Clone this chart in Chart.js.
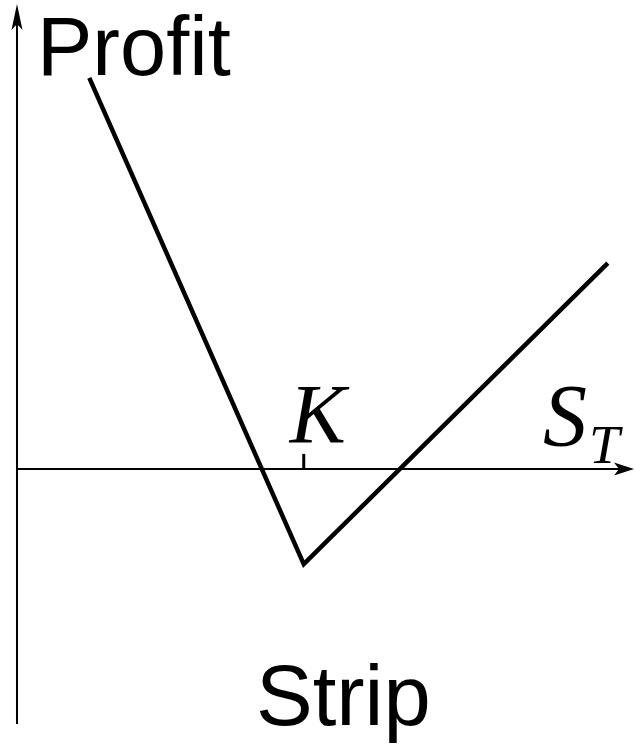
<!DOCTYPE html>
<html>
<head>
<meta charset="utf-8">
<script src="https://cdn.jsdelivr.net/npm/chart.js@4.4.0/dist/chart.umd.min.js"></script>
<style>
  html, body { margin: 0; padding: 0; background: #fff; }
  #strip { display: block; }
</style>
</head>
<body>
<canvas id="strip" width="635" height="750"></canvas>
<script>
// strip payoff: price axis 0..100, strike around 46
var priceST = [11.7, 46.4, 95.6];
var profit = [63.3, -15.4, 33.3];
var strike = 46.4;
var axisLabels = { y: "Profit", x: "S", xSub: "T", strike: "K", title: "Strip" };

var points = [];
for (var i in priceST) {
	points.push({ x: priceST[i], y: profit[i] });
}

function arrow(ctx, tx, ty, dir) {
	// dir: "up" or "right", small notched head like the sketch
	ctx.beginPath();
	if (dir == "up") {
		ctx.moveTo(tx, ty);
		ctx.lineTo(tx - 5.5, ty + 26);
		ctx.lineTo(tx, ty + 20);
		ctx.lineTo(tx + 5.5, ty + 26);
	} else {
		ctx.moveTo(tx, ty);
		ctx.lineTo(tx - 20, ty - 6.5);
		ctx.lineTo(tx - 15, ty);
		ctx.lineTo(tx - 20, ty + 6.5);
	}
	ctx.closePath();
	ctx.fill();
}

var axesPlugin = {
	id: 'axesPlugin',
	beforeDatasetsDraw: function(chart) {
		var ctx = chart.ctx;
		var xs = chart.scales.x, ys = chart.scales.y;
		var x0 = xs.getPixelForValue(0);
		var y0 = ys.getPixelForValue(0);
		var xEnd = xs.getPixelForValue(100);
		ctx.save();
		ctx.strokeStyle = "#000";
		ctx.fillStyle = "#000";
		ctx.lineWidth = 2;
		ctx.lineCap = "butt";

		// vertical axis
		ctx.beginPath();
		ctx.moveTo(x0, ys.getPixelForValue(-41.3));
		ctx.lineTo(x0, 12);
		ctx.stroke();
		arrow(ctx, x0, 4, "up");

		// horizontal axis
		ctx.beginPath();
		ctx.moveTo(x0, y0);
		ctx.lineTo(xEnd - 8, y0);
		ctx.stroke();
		arrow(ctx, xEnd - 1, y0, "right");

		// strike tick
		var kx = xs.getPixelForValue(strike);
		ctx.lineWidth = 3;
		ctx.beginPath();
		ctx.moveTo(kx, y0);
		ctx.lineTo(kx, y0 - 15);
		ctx.stroke();

		ctx.textBaseline = "alphabetic";
		ctx.textAlign = "left";
		ctx.font = "83px 'Liberation Sans', Arial, sans-serif";
		ctx.fillText(axisLabels.y, x0 + 20, 75);
		ctx.font = "85px 'Liberation Sans', Arial, sans-serif";
		ctx.fillText(axisLabels.title, 256, 725);

		ctx.font = "italic 84px 'Liberation Serif', 'Times New Roman', serif";
		ctx.fillText(axisLabels.strike, kx - 14, 443);
		ctx.font = "italic 88px 'Liberation Serif', 'Times New Roman', serif";
		ctx.fillText(axisLabels.x, 543, 445);
		ctx.font = "italic 55px 'Liberation Serif', 'Times New Roman', serif";
		ctx.fillText(axisLabels.xSub, 589, 463);
		ctx.restore();
	}
};

var ctx = document.getElementById("strip");
var stripChart = new Chart(ctx, {
	type: 'scatter',
	data: {
		datasets: [{
			label: 'Strip',
			data: points,
			showLine: true,
			borderColor: "#000",
			borderWidth: 4.5,
			pointRadius: 0,
			pointHoverRadius: 0,
			fill: false,
			tension: 0
		}]
	},
	options: {
		responsive: false,
		animation: false,
		events: [],
		layout: { padding: 0 },
		plugins: {
			legend: { display: false },
			tooltip: { enabled: false },
			title: { display: false }
		},
		scales: {
			x: { type: 'linear', display: false, min: -2.75, max: 100 },
			y: { type: 'linear', display: false, min: -45.5, max: 75.9 }
		}
	},
	plugins: [axesPlugin]
});
</script>
</body>
</html>
